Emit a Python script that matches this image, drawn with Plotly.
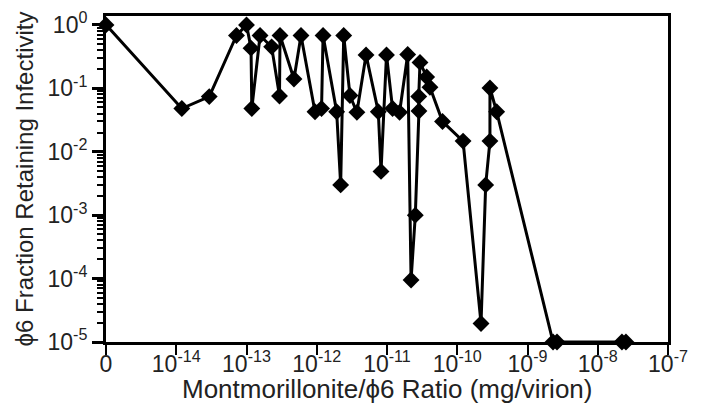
import plotly.graph_objects as go

# Montmorillonite/phi6 ratio (mg/virion); first point is the "0" control (drawn at 1e-15)
ratio = [1e-15, 1.20e-14, 2.95e-14, 7.2e-14, 1.0e-13, 1.16e-13, 1.19e-13, 1.56e-13,
         2.28e-13, 2.95e-13, 3.0e-13, 4.74e-13, 5.97e-13, 9.44e-13, 1.17e-12, 1.23e-12,
         1.92e-12, 2.19e-12, 2.42e-12, 2.97e-12, 3.73e-12, 5.03e-12, 7.52e-12, 8.22e-12,
         9.84e-12, 1.20e-11, 1.51e-11, 1.97e-11, 2.20e-11, 2.53e-11, 2.85e-11, 2.83e-11,
         2.95e-11, 3.67e-11, 4.09e-11, 6.17e-11, 1.21e-10, 2.18e-10, 2.54e-10, 2.92e-10,
         2.92e-10, 3.64e-10, 2.31e-9, 2.63e-9, 2.21e-8, 2.52e-8]
fraction = [1.0, 0.048, 0.074, 0.68, 1.0, 0.43, 0.048, 0.68,
            0.45, 0.0755, 0.68, 0.14, 0.68, 0.0427, 0.048, 0.68,
            0.0427, 0.003, 0.68, 0.077, 0.0418, 0.336, 0.0427, 0.0049,
            0.336, 0.048, 0.0418, 0.342, 0.000095, 0.001, 0.0438, 0.0743,
            0.256, 0.151, 0.104, 0.0299, 0.0147, 0.0000196, 0.003, 0.0147,
            0.101, 0.0427, 0.00001, 0.00001, 0.00001, 0.00001]

x_tickvals = [1e-15, 1e-14, 1e-13, 1e-12, 1e-11, 1e-10, 1e-9, 1e-8, 1e-7]
x_ticktext = ["0", "10<sup>-14</sup>", "10<sup>-13</sup>", "10<sup>-12</sup>", "10<sup>-11</sup>",
              "10<sup>-10</sup>", "10<sup>-9</sup>", "10<sup>-8</sup>", "10<sup>-7</sup>"]
y_tickvals = [1, 1e-1, 1e-2, 1e-3, 1e-4, 1e-5]
y_ticktext = ["10<sup>0</sup>", "10<sup>-1</sup>", "10<sup>-2</sup>", "10<sup>-3</sup>",
              "10<sup>-4</sup>", "10<sup>-5</sup>"]
y_minor = [m * 10.0 ** e for e in range(-5, 0) for m in range(2, 10)]
x_title = "Montmorillonite/ϕ6 Ratio (mg/virion)"
y_title = "ϕ6 Fraction Retaining Infectivity"

fig = go.Figure()
fig.add_trace(go.Scatter(
    x=ratio, y=fraction, mode="lines+markers",
    line=dict(color="black", width=3),
    marker=dict(symbol="diamond", size=13, color="black"),
    cliponaxis=False, showlegend=False,
))

font = dict(family="Liberation Sans, Arial, sans-serif", size=23, color="#222")

fig.update_layout(
    width=701, height=411,
    margin=dict(l=106, r=33, t=16, b=69, autoexpand=False),
    paper_bgcolor="white", plot_bgcolor="white",
    font=font,
    xaxis=dict(
        type="log", range=[-15, -7], automargin=False,
        tickvals=x_tickvals, ticktext=x_ticktext,
        showgrid=False, zeroline=False,
        showline=True, linecolor="black", linewidth=3, mirror=True,
        ticks="outside", ticklen=10, tickwidth=2, tickcolor="black",
        ticklabelstandoff=-11,
    ),
    yaxis=dict(
        type="log", range=[-5, 0.14], automargin=False,
        tickvals=y_tickvals, ticktext=y_ticktext,
        showgrid=False, zeroline=False,
        showline=True, linecolor="black", linewidth=3, mirror=True,
        ticks="outside", ticklen=11, tickwidth=3, tickcolor="black",
        minor=dict(tickmode="array", tickvals=y_minor, ticks="outside",
                   ticklen=6, tickwidth=2, tickcolor="black", showgrid=False),
        title=dict(text=y_title, font=dict(size=24), standoff=8),
    ),
    annotations=[dict(text=x_title, xref="paper", yref="paper", x=0.5, y=-0.143,
                      xanchor="center", yanchor="middle", showarrow=False,
                      font=dict(size=26))],
)

fig.write_html("out.html", post_script="document.body.style.margin='0';",
               config={"displayModeBar": False})
